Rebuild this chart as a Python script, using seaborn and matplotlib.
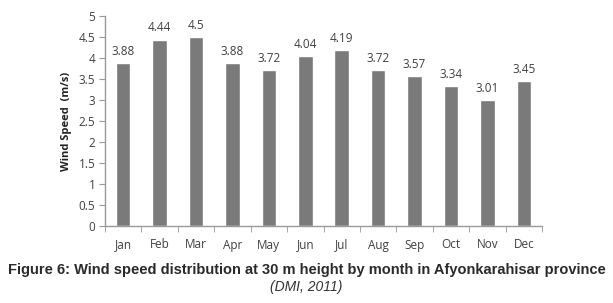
import pandas as pd
import numpy as np
import matplotlib.pyplot as plt
import seaborn as sns

# data
months = ['Jan', 'Feb', 'Mar', 'Apr', 'May', 'Jun', 'Jul', 'Aug', 'Sep', 'Oct', 'Nov', 'Dec']
speeds = [3.88, 4.44, 4.5, 3.88, 3.72, 4.04, 4.19, 3.72, 3.57, 3.34, 3.01, 3.45]
value_labels = ['3.88', '4.44', '4.5', '3.88', '3.72', '4.04', '4.19', '3.72', '3.57', '3.34', '3.01', '3.45']

df = pd.DataFrame({'month': months, 'speed': speeds})

sns.set_style('white')
plt.rcParams['font.family'] = ['Open Sans', 'DejaVu Sans']

fig = plt.figure(figsize=(6.13, 3.03), dpi=100)
ax = fig.add_axes([105 / 613, 1 - 226 / 303, 437 / 613, 210 / 303])

sns.barplot(data=df, x='month', y='speed', color='#7a7a7a', width=0.4,
            saturation=1, ax=ax)

for i, (v, lab) in enumerate(zip(speeds, value_labels)):
    ax.text(i, v + 0.12, lab, ha='center', va='bottom', fontsize=8.5, color='#404040')

ax.set_ylim(0, 5)
ax.set_xlim(-0.5, 11.5)
ax.set_yticks(np.arange(0, 5.01, 0.5))
ax.set_yticklabels(['0', '0.5', '1', '1.5', '2', '2.5', '3', '3.5', '4', '4.5', '5'])
ax.set_xticks(np.arange(-0.5, 12, 1), minor=True)
ax.tick_params(axis='x', which='major', length=0, labelsize=8.5, colors='#404040', pad=9)
ax.tick_params(axis='x', which='minor', length=4, bottom=True, color='#999999')
ax.tick_params(axis='y', length=4, left=True, labelsize=8.5, colors='#404040', pad=3)
ax.tick_params(axis='y', color='#999999')

ax.set_xlabel('')
ax.set_ylabel('Wind Speed  (m/s)', fontsize=8, fontweight='bold', color='#222222', labelpad=5)

for s in ['top', 'right']:
    ax.spines[s].set_visible(False)
for s in ['left', 'bottom']:
    ax.spines[s].set_color('#999999')
    ax.spines[s].set_linewidth(1)

fig.text(0.5, 1 - 270 / 303, 'Figure 6: Wind speed distribution at 30 m height by month in Afyonkarahisar province',
         ha='center', va='center', fontsize=10.5, fontweight='bold', color='#2a2a2a',
         family=['Liberation Sans', 'DejaVu Sans'])
fig.text(0.5, 1 - 287 / 303, '(DMI, 2011)', ha='center', va='center', fontsize=10,
         style='italic', color='#333333', family=['Liberation Sans', 'DejaVu Sans'])

fig.savefig('out.png', dpi=100)
